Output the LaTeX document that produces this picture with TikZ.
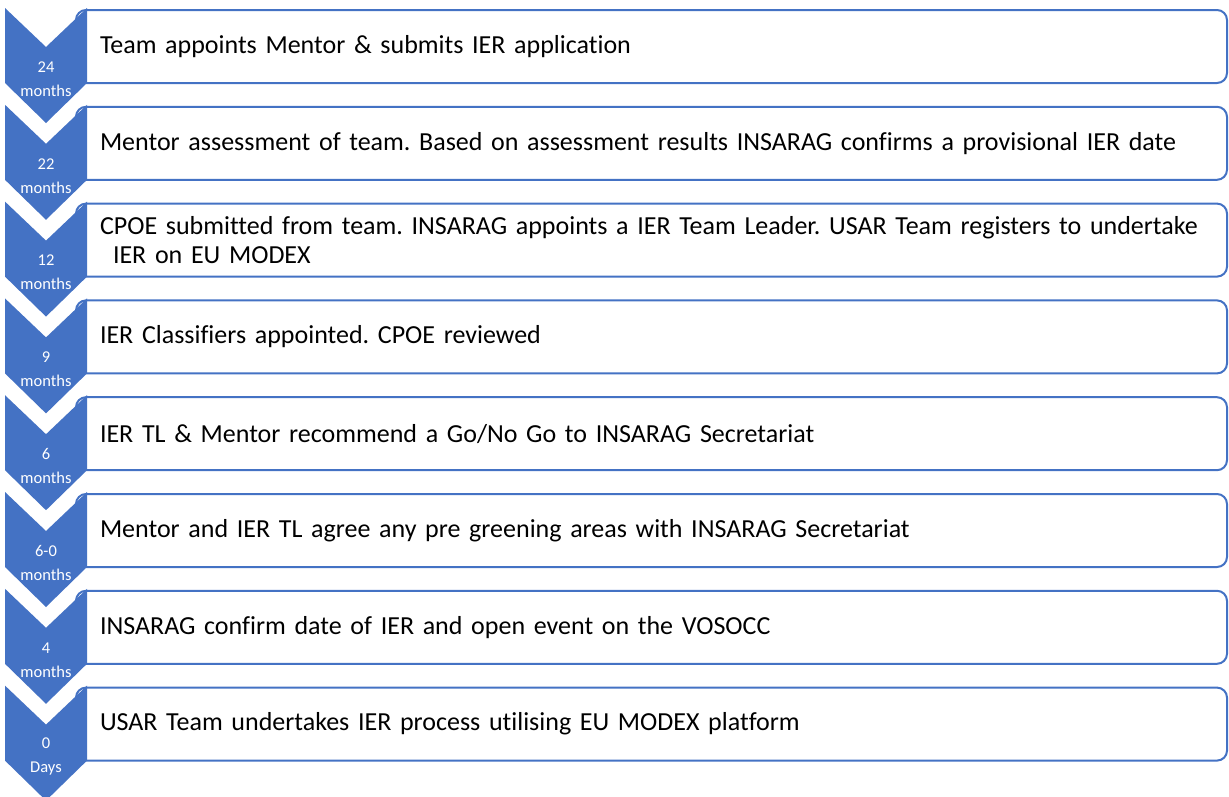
\documentclass[tikz,border=0pt]{standalone}
\usepackage{fontspec}
\setmainfont{Carlito}[Ligatures=NoCommon]
\frenchspacing
\usetikzlibrary{positioning}
\definecolor{chevblue}{RGB}{68,114,196}

\begin{document}
\begin{tikzpicture}[x=1pt,y=-1pt,
  chevron/.style={fill=chevblue,draw=none},
  chevtext/.style={text=white,align=center,font=\fontsize{16.5}{24}\selectfont,inner sep=0pt},
  stepbox/.style={draw=chevblue,fill=white,line width=2pt,rounded corners=10pt,
    minimum width=1151pt,minimum height=73pt,inner xsep=24pt,inner ysep=0pt,
    text width=1103pt,align=left,font=\fontsize{26}{29}\selectfont}]
\useasboundingbox (0,0) rectangle (1229,796);

%steps
\foreach \i/\lab/\txt in {
  0/{24\\months}/{Team appoints Mentor \& submits IER application},
  1/{22\\months}/{Mentor assessment of team. Based on assessment results INSARAG confirms a provisional IER date},
  2/{12\\months}/{CPOE submitted from team. INSARAG appoints a IER Team Leader. USAR Team registers to undertake\\\hspace*{0.5em}IER on EU MODEX},
  3/{9\\months}/{IER Classifiers appointed. CPOE reviewed},
  4/{6\\months}/{IER TL \& Mentor recommend a Go/No Go to INSARAG Secretariat},
  5/{6-0\\months}/{Mentor and IER TL agree any pre greening areas with INSARAG Secretariat},
  6/{4\\months}/{INSARAG confirm date of IER and open event on the VOSOCC},
  7/{0\\Days}/{USAR Team undertakes IER process utilising EU MODEX platform}}
{
  \pgfmathsetmacro\t{8+96.8*\i}
  % text box
  \node[stepbox] (box\i) at (651.5,\t+38.5) {\txt};
  % chevron
  \fill[chevron] (5,\t) -- (46,\t+39) -- (87,\t) -- (87,\t+75)
     -- (46,\t+115) -- (5,\t+75) -- cycle;
  \node[chevtext] (chev\i) at (46,\t+71) {\lab};
}
\end{tikzpicture}
\end{document}
